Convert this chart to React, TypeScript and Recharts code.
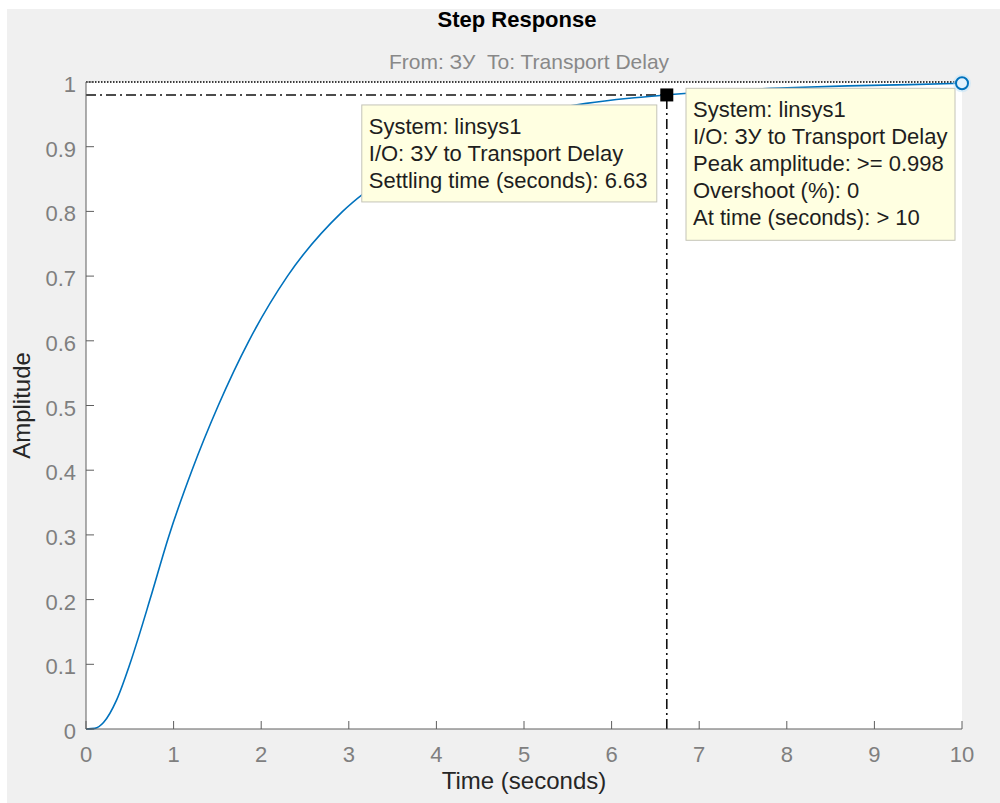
import React from 'react';
import {
  LineChart,
  Line,
  XAxis,
  YAxis,
  CartesianGrid,
  ReferenceLine,
  ReferenceDot,
} from 'recharts';

// ---- data ----
const times = [0, 0.1, 0.2, 0.35, 0.5, 0.6, 0.73, 0.95, 1.21, 1.51, 1.86, 2.3, 2.93, 3.5, 4.0, 4.5, 5.0, 5.71, 6.2, 6.63, 7.2, 8.0, 8.7, 9.4, 10];
const amplitudes = [0, 0.001, 0.01, 0.045, 0.1, 0.142, 0.2, 0.3, 0.4, 0.5, 0.6, 0.7, 0.8, 0.86, 0.9, 0.928, 0.948, 0.967, 0.975, 0.98, 0.986, 0.991, 0.994, 0.996, 0.998];

const xTicks = [0, 1, 2, 3, 4, 5, 6, 7, 8, 9, 10];
const xTickLabels = ['0', '1', '2', '3', '4', '5', '6', '7', '8', '9', '10'];
const yTicks = [0, 0.1, 0.2, 0.3, 0.4, 0.5, 0.6, 0.7, 0.8, 0.9, 1];
const yTickLabels = ['0', '0.1', '0.2', '0.3', '0.4', '0.5', '0.6', '0.7', '0.8', '0.9', '1'];

const finalValue = 1;
const settlingTime = 6.63;
const settlingLevel = 0.98;
const peakTime = 10;
const peakAmplitude = 0.998;

const titleText = 'Step Response';
const subtitleText = 'From: ЗУ  To: Transport Delay';
const xLabelText = 'Time (seconds)';
const yLabelText = 'Amplitude';

const settlingTipLines = ['System: linsys1', 'I/O: ЗУ to Transport Delay', 'Settling time (seconds): 6.63'];
const peakTipLines = [
  'System: linsys1',
  'I/O: ЗУ to Transport Delay',
  'Peak amplitude: >= 0.998',
  'Overshoot (%): 0',
  'At time (seconds): > 10',
];

const data = times.map((t, i) => ({ t, y: amplitudes[i] }));

const FONT = '"Liberation Sans", Arial, Helvetica, sans-serif';
const TICK_COLOR = '#7f7f7f';
const AXIS_COLOR = '#5e5e5e';
const TIP_BG = '#ffffe1';
const TIP_BORDER = '#c4c4b8';
const TICK_LEN = 8;

const BottomTick = (props: any) => {
  const { x, y, payload } = props;
  const idx = xTicks.indexOf(payload.value);
  const axisY = y - 33;
  return (
    <g>
      <line x1={x} y1={axisY} x2={x} y2={axisY - TICK_LEN} stroke={AXIS_COLOR} strokeWidth={1} />
      <text x={x} y={y} textAnchor="middle" fill={TICK_COLOR} fontSize={22} fontFamily={FONT}>
        {idx >= 0 ? xTickLabels[idx] : payload.value}
      </text>
    </g>
  );
};

const TopTick = (props: any) => {
  const { x, y } = props;
  return <line x1={x} y1={y} x2={x} y2={y + TICK_LEN} stroke={AXIS_COLOR} strokeWidth={1} />;
};

const LeftTick = (props: any) => {
  const { x, y, payload } = props;
  const idx = yTicks.findIndex((v) => Math.abs(v - payload.value) < 1e-9);
  const axisX = x + 10;
  return (
    <g>
      <line x1={axisX} y1={y} x2={axisX + TICK_LEN} y2={y} stroke={AXIS_COLOR} strokeWidth={1} />
      <text x={x} y={y + 10} textAnchor="end" fill={TICK_COLOR} fontSize={22} fontFamily={FONT}>
        {idx >= 0 ? yTickLabels[idx] : payload.value}
      </text>
    </g>
  );
};

const RightTick = (props: any) => {
  const { x, y } = props;
  return <line x1={x} y1={y} x2={x - TICK_LEN} y2={y} stroke={AXIS_COLOR} strokeWidth={1} />;
};

const XLabel = (props: any) => {
  const vb = props.viewBox || { x: 86, y: 729, width: 876, height: 60 };
  return (
    <text x={vb.x + vb.width / 2} y={vb.y + 60} textAnchor="middle" fill="#262626" fontSize={24} fontFamily={FONT}>
      {xLabelText}
    </text>
  );
};

const YLabel = (props: any) => {
  const vb = props.viewBox || { x: 6, y: 82, width: 80, height: 647 };
  const cx = vb.x + 24;
  const cy = vb.y + vb.height / 2;
  return (
    <text
      x={cx}
      y={cy}
      transform={`rotate(-90, ${cx}, ${cy})`}
      textAnchor="middle"
      fill="#262626"
      fontSize={24}
      fontFamily={FONT}
    >
      {yLabelText}
    </text>
  );
};

const TipBox = ({ x, y, w, h, lines }: { x: number; y: number; w: number; h: number; lines: string[] }) => (
  <g>
    <rect x={x} y={y} width={w} height={h} fill={TIP_BG} stroke={TIP_BORDER} strokeWidth={1} />
    {lines.map((ln, i) => (
      <text key={i} x={x + 7} y={y + 29 + i * 27} fill="#1e1e1e" fontSize={22} fontFamily={FONT}>
        {ln}
      </text>
    ))}
  </g>
);

const SettlingMarker = (props: any) => {
  const { cx, cy } = props;
  return (
    <g>
      <TipBox x={cx - 305} y={cy + 10} w={295} h={97} lines={settlingTipLines} />
      <rect x={cx - 6.5} y={cy - 6.5} width={13} height={13} fill="#000" />
    </g>
  );
};

const PeakMarker = (props: any) => {
  const { cx, cy } = props;
  return (
    <g>
      <TipBox x={cx - 276} y={cy + 5} w={269} h={152} lines={peakTipLines} />
      <circle cx={cx} cy={cy} r={9} fill="#bfe3fa" opacity={0.5} />
      <circle cx={cx} cy={cy} r={6} fill="#e3f2fc" stroke="#0072BD" strokeWidth={2} />
    </g>
  );
};

export default function App() {
  return (
    <div style={{ position: 'absolute', left: 0, top: 0, width: 1000, height: 803, background: '#ffffff', overflow: 'hidden' }}>
      <div style={{ position: 'absolute', left: 7, top: 9, right: 0, bottom: 0, background: '#f0f0f0' }} />
      <div
        style={{
          position: 'absolute',
          left: 0,
          width: 1034,
          top: 9,
          lineHeight: '22px',
          textAlign: 'center',
          fontFamily: FONT,
          fontWeight: 'bold',
          fontSize: 22,
          color: '#000',
          whiteSpace: 'nowrap',
        }}
      >
        {titleText}
      </div>
      <div
        style={{
          position: 'absolute',
          left: 0,
          width: 1058,
          top: 51,
          lineHeight: '22px',
          textAlign: 'center',
          fontFamily: FONT,
          fontSize: 21,
          color: '#888888',
          whiteSpace: 'pre',
        }}
      >
        {subtitleText}
      </div>
      <div style={{ position: 'absolute', left: 0, top: 0 }}>
        <LineChart width={1000} height={803} data={data} margin={{ top: 82, right: 38, bottom: 14, left: 6 }}>
          <CartesianGrid horizontal={false} vertical={false} fill="#ffffff" stroke="none" />
          <XAxis
            dataKey="t"
            type="number"
            domain={[0, 10]}
            ticks={xTicks}
            interval={0}
            height={60}
            tickSize={0}
            tickMargin={33}
            tick={<BottomTick />}
            tickLine={false}
            axisLine={{ stroke: AXIS_COLOR }}
            label={<XLabel />}
          />
          <XAxis
            xAxisId="top"
            orientation="top"
            dataKey="t"
            type="number"
            domain={[0, 10]}
            ticks={xTicks}
            interval={0}
            height={0}
            tickSize={0}
            tickMargin={0}
            tick={<TopTick />}
            tickLine={false}
            axisLine={{ stroke: '#9a9a9a' }}
          />
          <YAxis
            type="number"
            domain={[0, 1]}
            ticks={yTicks}
            interval={0}
            width={80}
            tickSize={0}
            tickMargin={10}
            tick={<LeftTick />}
            tickLine={false}
            axisLine={{ stroke: AXIS_COLOR }}
            label={<YLabel />}
          />
          <YAxis
            yAxisId="right"
            orientation="right"
            type="number"
            domain={[0, 1]}
            ticks={yTicks}
            interval={0}
            width={0}
            tickSize={0}
            tickMargin={0}
            tick={<RightTick />}
            tickLine={false}
            axisLine={{ stroke: AXIS_COLOR }}
          />
          <ReferenceLine y={finalValue} stroke="#000" strokeWidth={1.5} strokeDasharray="1.5 1.5" />
          <ReferenceLine
            segment={[
              { x: 0, y: settlingLevel },
              { x: settlingTime, y: settlingLevel },
            ]}
            stroke="#111"
            strokeWidth={1.6}
            strokeDasharray="10 4 2 4"
          />
          <ReferenceLine
            segment={[
              { x: settlingTime, y: 0 },
              { x: settlingTime, y: settlingLevel },
            ]}
            stroke="#111"
            strokeWidth={1.6}
            strokeDasharray="10 4 2 4"
          />
          <Line
            type="monotone"
            dataKey="y"
            stroke="#0072BD"
            strokeWidth={1.6}
            dot={false}
            activeDot={false}
            isAnimationActive={false}
          />
          <ReferenceDot x={settlingTime} y={settlingLevel} r={6} shape={SettlingMarker} zIndex={2500} />
          <ReferenceDot x={peakTime} y={peakAmplitude} r={6} shape={PeakMarker} zIndex={2500} />
        </LineChart>
      </div>
    </div>
  );
}
